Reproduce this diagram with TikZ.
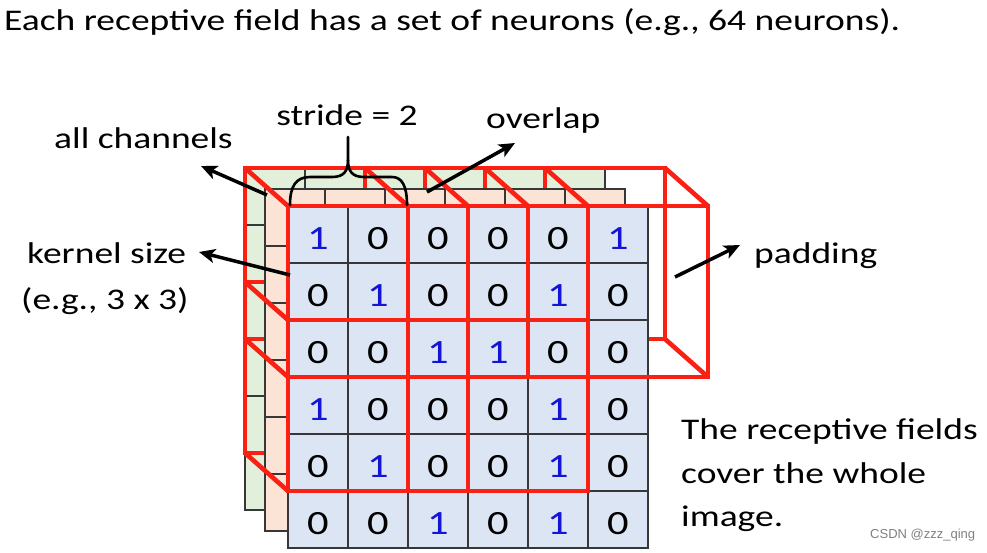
\documentclass[tikz,border=0pt]{standalone}
\usepackage{fontspec}
\setmainfont{Carlito}[FakeStretch=1.25]
\newfontfamily\wmfont{Liberation Sans}
\usetikzlibrary{arrows.meta}
\definecolor{cellblue}{RGB}{219,229,243}
\definecolor{cellorange}{RGB}{251,228,214}
\definecolor{cellgreen}{RGB}{226,239,218}
\definecolor{rfred}{RGB}{250,32,20}
\definecolor{digblue}{RGB}{20,20,215}
\definecolor{gridgray}{RGB}{55,55,55}
\newcommand\lblfont{\fontsize{30}{36}\selectfont}
\newcommand\digfont{\fontsize{34}{40}\selectfont}
% #1 x0, #2 y0, #3 fill, #4 prefix, #5 draw digits (1) or not (0)
\newcommand\celllayer[5]{%
  \fill[#3] (#1,#2) rectangle ++(360,342);
  \foreach \k in {1,...,5} {
    \draw[gridline] ({#1+\k*60},#2) -- ++(0,342);
    \draw[gridline] (#1,{#2+\k*57}) -- ++(360,0);
  }
  \draw[gridline] (#1,#2) rectangle ++(360,342);
  \ifnum#5=1
  \foreach \row [count=\r from 0] in {{1,0,0,0,0,1},{0,1,0,0,1,0},{0,0,1,1,0,0},{1,0,0,0,1,0},{0,1,0,0,1,0},{0,0,1,0,1,0}} {
    \foreach \v [count=\c from 0] in \row {
      \node[d\v] (#4-\r-\c) at ({#1+30+\c*60},{#2+43+\r*57}) {\v};
    }
  }
  \fi
}
\begin{document}
\begin{tikzpicture}[x=1pt,y=-1pt,
  gridline/.style={draw=gridgray,line width=1.1pt},
  rf/.style={draw=rfred,line width=4.6pt,line join=miter},
  d0/.style={text=black,font=\digfont,anchor=base,inner sep=0pt},
  d1/.style={d0,text=digblue},
  lbl/.style={font=\lblfont,anchor=base west,inner sep=0pt},
  pointer/.style={line width=3.5pt,-{Stealth[length=16pt,width=14pt,inset=4pt]}},
  bracestyle/.style={line width=2.6pt,line cap=round,line join=round}]
\useasboundingbox (0,0) rectangle (987,552);
\fill[white] (0,0) rectangle (987,552);

% back layer (green)
\celllayer{245}{168}{cellgreen}{g}{1}
% back faces of receptive fields
\foreach \bx/\by in {288/206,408/206,528/206,288/320,408/320}
  \draw[rf] ({\bx-43},{\by-38}) rectangle ++(180,171);
% middle layer (orange)
\celllayer{265}{189}{cellorange}{o}{0}
% connecting edges
\foreach \bx/\by in {288/206,408/206,528/206,288/320,408/320} {
  \draw[rf] ({\bx-43},{\by-38}) -- (\bx,\by);
  \draw[rf] ({\bx+137},{\by-38}) -- ({\bx+180},\by);
  \draw[rf] ({\bx-43},{\by+133}) -- (\bx,{\by+171});
  \draw[rf] ({\bx+137},{\by+133}) -- ({\bx+180},{\by+171});
}
% front layer (blue)
\celllayer{288}{206}{cellblue}{f}{1}
% front faces
\foreach \bx/\by in {288/206,408/206,528/206,288/320,408/320}
  \draw[rf] (\bx,\by) rectangle ++(180,171);

% brace
\draw[bracestyle] (290,205) .. controls (290,186) and (296,177) .. (310,177)
  -- (332,177) .. controls (344,177) and (348,171) .. (348,160) -- (348,137);
\draw[bracestyle] (348,160) .. controls (348,171) and (352,177) .. (364,177)
  -- (392,177) .. controls (402,177) and (407,186) .. (407,205);

% labels
\node[lbl] (title) at (4,30) {Each receptive field has a set of neurons (e.g., 64 neurons).};
\node[lbl,anchor=base] (stride) at (347,125) {stride = 2};
\node[lbl] (overlap) at (486,128) {overlap};
\node[lbl] (allch) at (54,148) {all channels};
\node[lbl] (kernel) at (27,263) {kernel size};
\node[lbl] (kernel2) at (21,309) {(e.g., 3 x 3)};
\node[lbl] (padding) at (754,263) {padding};
\node[lbl] (rf1) at (681,439) {The receptive fields};
\node[lbl] (rf2) at (681,483) {cover the whole};
\node[lbl] (rf3) at (681,526) {image.};
\node[anchor=base west,inner sep=0pt,font=\wmfont\fontsize{13}{15}\selectfont,text=gray] (wm) at (870,538) {CSDN @zzz\_qing};

% arrows
\coordinate (ach-tail) at (267,195); \coordinate (ach-head) at (201,166);
\coordinate (ker-tail) at (290,275); \coordinate (ker-head) at (199,252);
\coordinate (ovl-tail) at (427,192); \coordinate (ovl-head) at (515,143);
\coordinate (pad-tail) at (675,277); \coordinate (pad-head) at (740,245);
\draw[pointer] (ach-tail) -- (ach-head);
\draw[pointer] (ker-tail) -- (ker-head);
\draw[pointer] (ovl-tail) -- (ovl-head);
\draw[pointer] (pad-tail) -- (pad-head);
\end{tikzpicture}
\end{document}
